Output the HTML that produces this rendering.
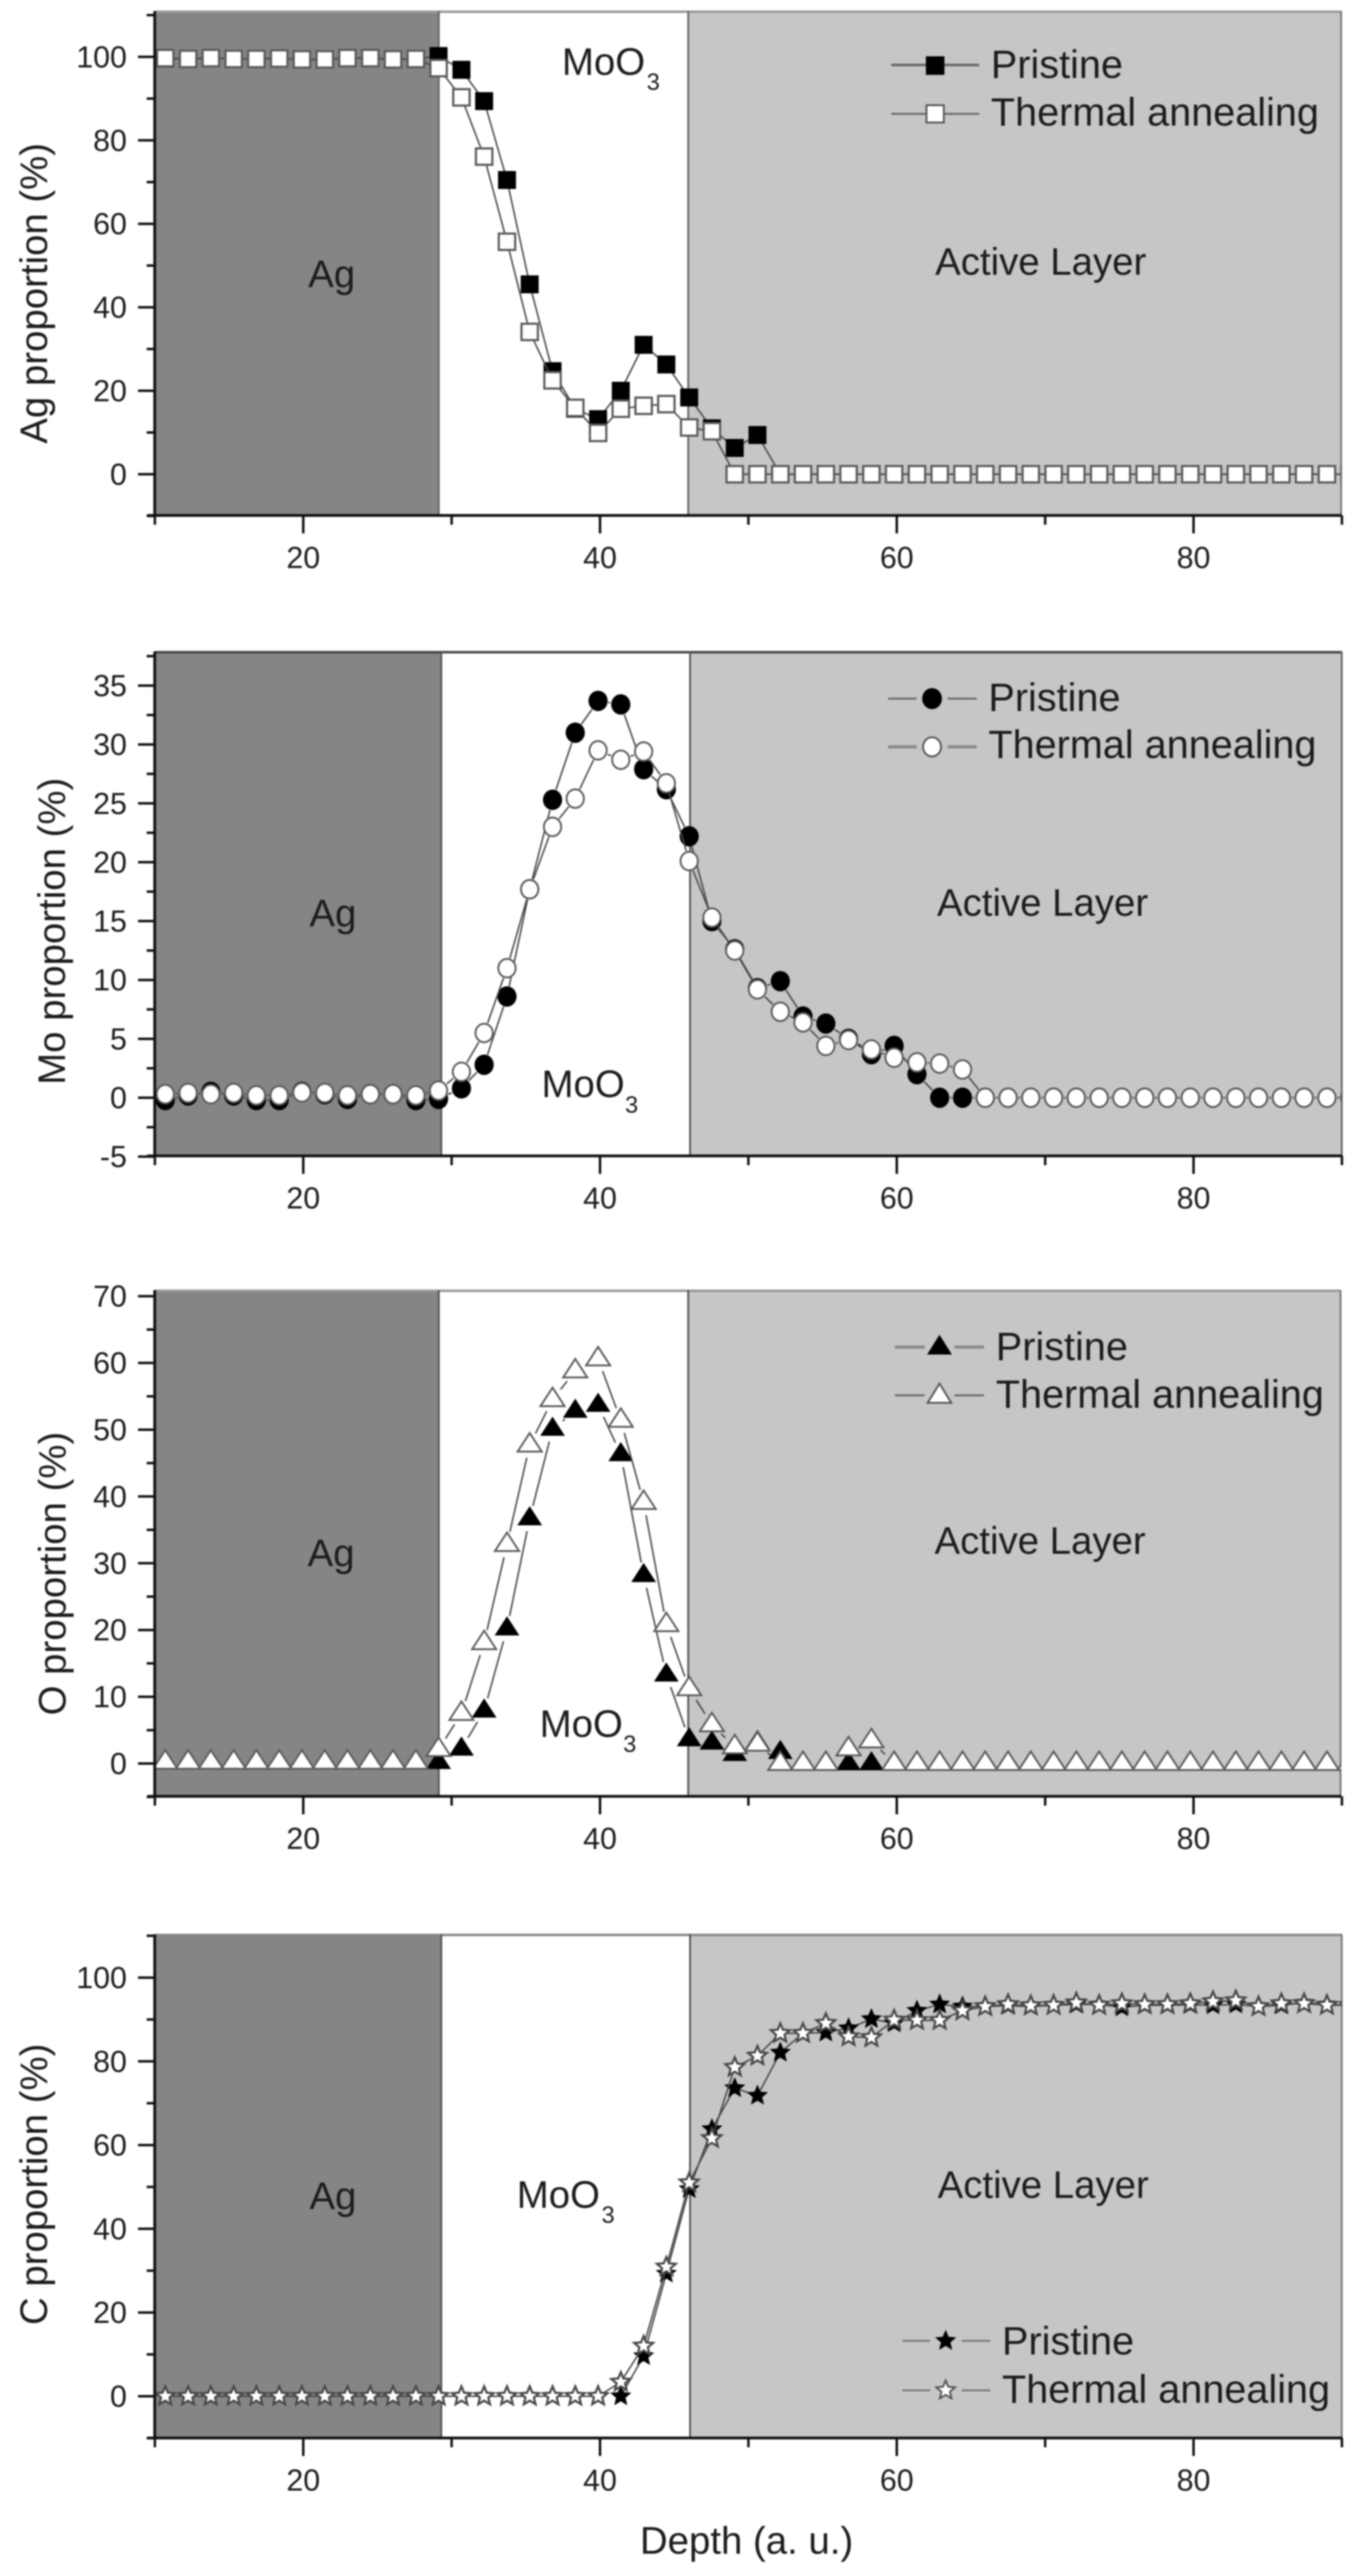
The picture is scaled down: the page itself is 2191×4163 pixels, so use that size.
<!DOCTYPE html>
<html>
<head>
<meta charset="utf-8">
<title>Depth profiles</title>
<style>
html,body{margin:0;padding:0;background:#fff;width:2191px;height:4163px;overflow:hidden}
svg{display:block;filter:blur(1.2px)}
text{font-family:"Liberation Sans",Arial,sans-serif;fill:#1c1c1c}
.lab{font-size:62px}
.leg{font-size:64px}
.tick{font-size:49px}
</style>
</head>
<body>
<svg id="chart" xmlns="http://www.w3.org/2000/svg" width="2191" height="4163" viewBox="0 0 2191 4163">
<defs>
<clipPath id="clip-ag"><rect x="250" y="18" width="1917" height="815"/></clipPath>
<clipPath id="clip-mo"><rect x="250" y="1053" width="1918" height="815"/></clipPath>
<clipPath id="clip-o"><rect x="250" y="2085" width="1917" height="818"/></clipPath>
<clipPath id="clip-c"><rect x="250" y="3126" width="1918" height="814"/></clipPath>
</defs>

<!-- Ag panel -->
<g id="panel-ag">
<rect x="250" y="18" width="459" height="815" fill="#858585"/>
<rect x="709" y="18" width="403" height="815" fill="#ffffff"/>
<rect x="1112" y="18" width="1055" height="815" fill="#c6c6c6"/>
<line x1="250" y1="19" x2="2167" y2="19" stroke="#999" stroke-width="4"/>
<line x1="2167" y1="18" x2="2167" y2="833" stroke="#777" stroke-width="3"/>
<line x1="709" y1="18" x2="709" y2="833" stroke="#666" stroke-width="3"/>
<line x1="1112" y1="18" x2="1112" y2="833" stroke="#666" stroke-width="3"/>
<text class="lab" x="498" y="464">Ag</text>
<text class="lab" x="908" y="121">MoO<tspan x="1045" y="145" font-size="38">3</tspan></text>
<text class="lab" x="1511" y="444">Active Layer</text>
<text class="lab" transform="translate(76 474) rotate(-90)" text-anchor="middle">Ag proportion (%)</text>
</g>

<!-- Mo panel -->
<g id="panel-mo">
<rect x="250" y="1053" width="463" height="815" fill="#858585"/>
<rect x="713" y="1053" width="402" height="815" fill="#ffffff"/>
<rect x="1115" y="1053" width="1053" height="815" fill="#c6c6c6"/>
<line x1="250" y1="1054" x2="2168" y2="1054" stroke="#444" stroke-width="4"/>
<line x1="2168" y1="1053" x2="2168" y2="1868" stroke="#666" stroke-width="3"/>
<line x1="713" y1="1053" x2="713" y2="1868" stroke="#555" stroke-width="3"/>
<line x1="1115" y1="1053" x2="1115" y2="1868" stroke="#555" stroke-width="3"/>
<text class="lab" x="500" y="1497">Ag</text>
<text class="lab" x="875" y="1773">MoO<tspan x="1010" y="1798" font-size="38">3</tspan></text>
<text class="lab" x="1514" y="1480">Active Layer</text>
<text class="lab" transform="translate(105 1505) rotate(-90)" text-anchor="middle">Mo proportion (%)</text>
</g>

<!-- O panel -->
<g id="panel-o">
<rect x="250" y="2085" width="459" height="818" fill="#858585"/>
<rect x="709" y="2085" width="403" height="818" fill="#ffffff"/>
<rect x="1112" y="2085" width="1054" height="818" fill="#c6c6c6"/>
<line x1="250" y1="2086" x2="2166" y2="2086" stroke="#999" stroke-width="4"/>
<line x1="2166" y1="2085" x2="2166" y2="2903" stroke="#777" stroke-width="3"/>
<line x1="709" y1="2085" x2="709" y2="2903" stroke="#555" stroke-width="3"/>
<line x1="1112" y1="2085" x2="1112" y2="2903" stroke="#555" stroke-width="3"/>
<text class="lab" x="497" y="2531">Ag</text>
<text class="lab" x="872" y="2807">MoO<tspan x="1007" y="2831" font-size="38">3</tspan></text>
<text class="lab" x="1510" y="2511">Active Layer</text>
<text class="lab" transform="translate(106 2543) rotate(-90)" text-anchor="middle">O proportion (%)</text>
</g>

<!-- C panel -->
<g id="panel-c">
<rect x="250" y="3126" width="463" height="814" fill="#858585"/>
<rect x="713" y="3126" width="402" height="814" fill="#ffffff"/>
<rect x="1115" y="3126" width="1053" height="814" fill="#c6c6c6"/>
<line x1="250" y1="3127" x2="2168" y2="3127" stroke="#888" stroke-width="4"/>
<line x1="2168" y1="3126" x2="2168" y2="3940" stroke="#777" stroke-width="3"/>
<line x1="713" y1="3126" x2="713" y2="3940" stroke="#555" stroke-width="3"/>
<line x1="1115" y1="3126" x2="1115" y2="3940" stroke="#555" stroke-width="3"/>
<text class="lab" x="500" y="3570">Ag</text>
<text class="lab" x="835" y="3568">MoO<tspan x="972" y="3592" font-size="38">3</tspan></text>
<text class="lab" x="1515" y="3552">Active Layer</text>
<text class="lab" transform="translate(76 3530) rotate(-90)" text-anchor="middle">C proportion (%)</text>
<text class="lab" x="1034" y="4127">Depth (a. u.)</text>
</g>

<g id="series-layer"></g>
<g id="axis-layer"></g>

<!-- Legends -->
<g>
<line x1="1440" y1="105" x2="1582" y2="105" stroke="#666" stroke-width="4"/>
<rect x="1496" y="91" width="30" height="30" fill="#000"/>
<text class="leg" x="1601" y="126">Pristine</text>
<line x1="1440" y1="184" x2="1582" y2="184" stroke="#666" stroke-width="3"/>
<rect x="1497" y="170" width="28" height="28" fill="#fff" stroke="#555" stroke-width="3"/>
<text class="leg" x="1601" y="203">Thermal annealing</text>
</g>
<g>
<line x1="1435" y1="1129" x2="1481" y2="1129" stroke="#666" stroke-width="3"/>
<line x1="1531" y1="1129" x2="1578" y2="1129" stroke="#666" stroke-width="3"/>
<ellipse cx="1506" cy="1129" rx="16" ry="17" fill="#000"/>
<text class="leg" x="1597" y="1149">Pristine</text>
<line x1="1435" y1="1207" x2="1481" y2="1207" stroke="#888" stroke-width="5"/>
<line x1="1531" y1="1207" x2="1578" y2="1207" stroke="#888" stroke-width="5"/>
<ellipse cx="1506" cy="1207" rx="14.5" ry="15.5" fill="#fff" stroke="#555" stroke-width="3"/>
<text class="leg" x="1597" y="1225">Thermal annealing</text>
</g>
<g>
<line x1="1446" y1="2177" x2="1494" y2="2177" stroke="#888" stroke-width="5"/>
<line x1="1542" y1="2177" x2="1590" y2="2177" stroke="#888" stroke-width="5"/>
<polygon points="1518,2157 1538,2189 1498,2189" fill="#000"/>
<text class="leg" x="1609" y="2198">Pristine</text>
<line x1="1446" y1="2255" x2="1494" y2="2255" stroke="#666" stroke-width="3"/>
<line x1="1542" y1="2255" x2="1590" y2="2255" stroke="#666" stroke-width="3"/>
<polygon points="1518,2236 1537,2267 1499,2267" fill="#fff" stroke="#555" stroke-width="3"/>
<text class="leg" x="1609" y="2275">Thermal annealing</text>
</g>
<g>
<line x1="1458" y1="3783" x2="1503" y2="3783" stroke="#777" stroke-width="3"/>
<line x1="1554" y1="3783" x2="1600" y2="3783" stroke="#777" stroke-width="3"/>
<polygon id="legend-star-p" fill="#000"/>
<text class="leg" x="1619" y="3805">Pristine</text>
<line x1="1458" y1="3863" x2="1503" y2="3863" stroke="#777" stroke-width="3"/>
<line x1="1554" y1="3863" x2="1600" y2="3863" stroke="#777" stroke-width="3"/>
<polygon id="legend-star-t" fill="#fff" stroke="#555" stroke-width="3"/>
<text class="leg" x="1619" y="3883">Thermal annealing</text>
</g>
</svg>

<script>
const depth = [10.7,12.24,13.77,15.31,16.84,18.38,19.91,21.45,22.98,24.52,26.05,27.59,29.12,30.66,32.19,33.73,35.26,36.8,38.33,39.87,41.4,42.94,44.47,46.01,47.54,49.08,50.61,52.15,53.68,55.22,56.75,58.29,59.82,61.36,62.89,64.43,65.96,67.5,69.03,70.57,72.1,73.64,75.17,76.71,78.24,79.78,81.31,82.85,84.38,85.92,87.45,88.99,90.52];

const agPristine = [99.6,99.5,99.7,99.5,99.5,99.6,99.4,99.4,99.7,99.7,99.4,99.5,100.2,96.9,89.4,70.5,45.5,24.7,15.7,13.2,20,31,26.3,18.4,11,6.3,9.4,0,0,0,0,0,0,0,0,0,0,0,0,0,0,0,0,0,0,0,0,0,0,0,0,0,0];
const agThermal = [99.7,99.5,99.7,99.5,99.5,99.6,99.4,99.4,99.7,99.7,99.4,99.5,97.3,90.3,76.1,55.7,34.1,22.5,15.9,9.9,15.7,16.4,16.8,11.2,10.3,0,0,0,0,0,0,0,0,0,0,0,0,0,0,0,0,0,0,0,0,0,0,0,0,0,0,0,0];

const moPristine = [-0.2,0.2,0.5,0.2,-0.2,-0.2,0.5,0.3,-0.1,0.3,0.3,-0.2,-0.1,0.8,2.8,8.6,17.7,25.3,31,33.7,33.4,27.9,26.2,22.2,15,12.6,9.3,9.9,6.9,6.3,5,3.7,4.4,2,0,0,0,0,0,0,0,0,0,0,0,0,0,0,0,0,0,0,0];
const moThermal = [0.3,0.4,0.3,0.4,0.2,0.2,0.45,0.4,0.2,0.3,0.3,0.2,0.6,2.2,5.5,11,17.7,23,25.4,29.5,28.7,29.4,26.7,20.1,15.3,12.5,9.2,7.3,6.4,4.4,4.9,4.1,3.4,3,2.9,2.4,0,0,0,0,0,0,0,0,0,0,0,0,0,0,0,0,0];

const oPristine = [0.2,0.2,0.2,0.2,0.2,0.2,0.2,0.2,0.2,0.2,0.2,0.2,0.2,2.2,7.9,20.2,36.7,50.1,52.8,53.7,46.3,28.2,13.3,3.6,3.1,1.4,3.2,1.7,0,0,0,0,0,0,0,0,0,0,0,0,0,0,0,0,0,0,0,0,0,0,0,0,0];
const oThermal = [0.2,0.2,0.2,0.2,0.2,0.2,0.2,0.2,0.2,0.2,0.2,0.2,2.1,7.5,18.1,32.8,47.7,54.5,58.8,60.6,51.4,39.1,20.8,11.2,5.8,2.5,2.9,0,0,0,2.2,3.4,0,0,0,0,0,0,0,0,0,0,0,0,0,0,0,0,0,0,0,0,0];

const cPristine = [null,null,null,null,null,null,null,null,null,null,null,null,null,null,null,null,null,null,null,null,0,9.6,29.3,49.5,63.8,73.6,71.8,82.1,86.7,86.9,87.9,90.1,89.1,92.1,93.6,93.1,93.1,93.3,93.1,93.4,93.6,93.6,92.9,93.4,93.4,93.5,93.4,93.6,93.1,93.4,94,93.6,93.4];
const cThermal = [0,0,0,0,0,0,0,0,0,0,0,0,0,0,0,0,0,0,0,0,3.4,12,30.9,51,61.6,78.6,81.3,86.7,86.7,89.1,85.9,85.7,89.9,89.8,89.8,92.1,93.1,93.6,93.3,93.4,94,93.4,93.8,93.6,93.6,93.8,94.3,94.5,93.1,93.8,93.8,93.4,93.4];

const xMajorTicks = [20,40,60,80];
const xMinorTicks = [10,30,50,70,90];
const agYMajor = [0,20,40,60,80,100];
const agYMinor = [-10,10,30,50,70,90,110];
const moYMajor = [-5,0,5,10,15,20,25,30,35];
const moYMinor = [-2.5,2.5,7.5,12.5,17.5,22.5,27.5,32.5,37.5];
const oYMajor = [0,10,20,30,40,50,60,70];
const oYMinor = [-5,5,15,25,35,45,55,65];
const cYMajor = [0,20,40,60,80,100];
const cYMinor = [-10,10,30,50,70,90,110];

const SVGNS = 'http://www.w3.org/2000/svg';
const seriesLayer = document.getElementById('series-layer');
const axisLayer = document.getElementById('axis-layer');

function xScale(v){ return 250.25 + (v - 10) * 23.975; }

function make(tag, parent, attrs){
  const el = document.createElementNS(SVGNS, tag);
  for (const k in attrs) el.setAttribute(k, attrs[k]);
  parent.appendChild(el);
  return el;
}

function starPoints(cx, cy, R){
  const r = R * 0.45, pts = [];
  for (let i = 0; i < 10; i++){
    const a = -Math.PI / 2 + i * Math.PI / 5;
    const q = i % 2 ? r : R;
    pts.push((cx + q * Math.cos(a)).toFixed(1) + ',' + (cy + q * Math.sin(a)).toFixed(1));
  }
  return pts.join(' ');
}

function drawMarker(group, shape, filled, px, py){
  const fill = filled ? '#000' : '#fff';
  const stroke = filled ? 'none' : '#5a5a5a';
  let el;
  if (shape === 'square') {
    const s = filled ? 29 : 26.5;
    el = make('rect', group, {x:px - s/2, y:py - s/2, width:s, height:s, fill:fill, stroke:stroke, 'stroke-width':3.5});
  } else if (shape === 'circle') {
    el = make('ellipse', group, {cx:px, cy:py, rx:filled ? 15.5 : 14, ry:filled ? 16.5 : 15, fill:fill, stroke:stroke, 'stroke-width':3});
  } else if (shape === 'triangle') {
    const h = filled ? 0 : 0.5;
    el = make('polygon', group, {points:px + ',' + (py - 20 + h) + ' ' + (px + 20 - h) + ',' + (py + 11 - h) + ' ' + (px - 20 + h) + ',' + (py + 11 - h), fill:fill, stroke:stroke, 'stroke-width':3});
  } else {
    el = make('polygon', group, {points:starPoints(px, py, filled ? 18 : 16), fill:fill, stroke:filled ? 'none' : '#484848', 'stroke-width':filled ? 0 : 3.5});
  }
  
  
}

function drawSeries(panel, values, filled, seriesName){
  const yScale = v => panel.zero - v * panel.unit;
  const group = make('g', seriesLayer, {'clip-path':'url(#clip-' + panel.id + ')'});
  
  
  for (let i = 0; i + 1 < values.length; i++){
    if (values[i] === null || values[i + 1] === null) continue;
    const x1 = xScale(depth[i]), y1 = yScale(values[i]);
    const x2 = xScale(depth[i + 1]), y2 = yScale(values[i + 1]);
    const len = Math.hypot(x2 - x1, y2 - y1);
    if (len <= 2 * panel.gap) continue;
    const ux = (x2 - x1) / len, uy = (y2 - y1) / len;
    const seg = make('line', group, {x1:x1 + ux * panel.gap, y1:y1 + uy * panel.gap, x2:x2 - ux * panel.gap, y2:y2 - uy * panel.gap, stroke:'#4a4a4a', 'stroke-width':2.5});
    
    
  }
  for (let i = 0; i < values.length; i++){
    if (values[i] === null) continue;
    drawMarker(group, panel.shape, filled, xScale(depth[i]), yScale(values[i]));
  }
}

function drawAxes(panel){
  const yScale = v => panel.zero - v * panel.unit;
  const group = make('g', axisLayer, {});
  
  
  const yAxis = make('line', group, {x1:250, y1:panel.top, x2:250, y2:panel.bottom + 2, stroke:'#111', 'stroke-width':4.5});
  
  
  const xAxis = make('line', group, {x1:238, y1:panel.bottom, x2:panel.right + 1, y2:panel.bottom, stroke:'#111', 'stroke-width':4.5});
  
  
  panel.yMajor.forEach(v => {
    const t = make('line', group, {x1:223, y1:yScale(v), x2:250, y2:yScale(v), stroke:'#111', 'stroke-width':4});
    
    
    const l = make('text', group, {x:205, y:yScale(v) + 17, 'text-anchor':'end', class:'tick'});
    l.textContent = String(v);
    
    
  });
  panel.yMinor.forEach(v => {
    const t = make('line', group, {x1:237, y1:yScale(v), x2:250, y2:yScale(v), stroke:'#111', 'stroke-width':4});
    
    
  });
  xMajorTicks.forEach(v => {
    const t = make('line', group, {x1:xScale(v), y1:panel.bottom, x2:xScale(v), y2:panel.bottom + 29, stroke:'#111', 'stroke-width':4});
    
    
    const l = make('text', group, {x:xScale(v), y:panel.bottom + 85, 'text-anchor':'middle', class:'tick'});
    l.textContent = String(v);
    
    
  });
  xMinorTicks.forEach(v => {
    const t = make('line', group, {x1:xScale(v), y1:panel.bottom, x2:xScale(v), y2:panel.bottom + 15, stroke:'#111', 'stroke-width':4});
    
    
  });
}

const panelLayouts = [
  {id:'ag', top:18, bottom:833, right:2167, zero:766.4, unit:6.745, shape:'square', gap:0, yMajor:agYMajor, yMinor:agYMinor, pristine:agPristine, thermal:agThermal},
  {id:'mo', top:1053, bottom:1868, right:2168, zero:1774, unit:19.03, shape:'circle', gap:17, yMajor:moYMajor, yMinor:moYMinor, pristine:moPristine, thermal:moThermal},
  {id:'o', top:2085, bottom:2903, right:2166, zero:2850, unit:10.79, shape:'triangle', gap:21, yMajor:oYMajor, yMinor:oYMinor, pristine:oPristine, thermal:oThermal},
  {id:'c', top:3126, bottom:3940, right:2168, zero:3872.5, unit:6.765, shape:'star', gap:8, yMajor:cYMajor, yMinor:cYMinor, pristine:cPristine, thermal:cThermal}
];

panelLayouts.forEach(p => {
  drawSeries(p, p.pristine, true, 'pristine');
  drawSeries(p, p.thermal, false, 'thermal-annealing');
  drawAxes(p);
});

document.getElementById('legend-star-p').setAttribute('points', starPoints(1528, 3783, 18));
document.getElementById('legend-star-t').setAttribute('points', starPoints(1528, 3863, 16));
</script>
</body>
</html>
